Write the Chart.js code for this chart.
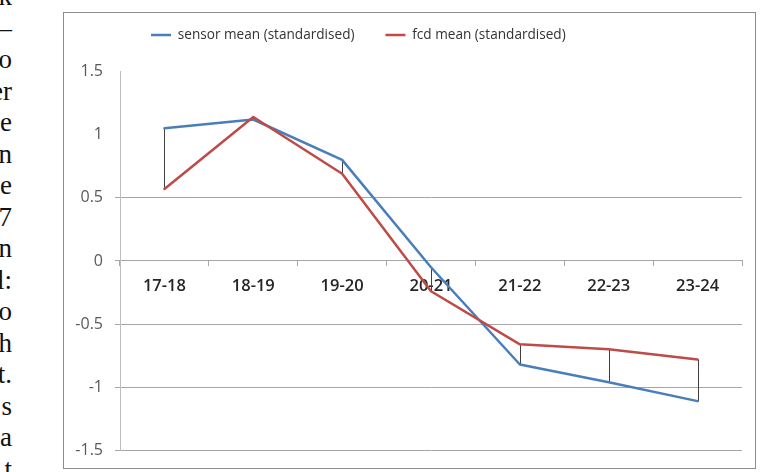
<!DOCTYPE html>
<html><head><meta charset="utf-8">
<script src="https://cdn.jsdelivr.net/npm/chart.js@4.4.0/dist/chart.umd.min.js"></script>
<style>
html,body{margin:0;padding:0;background:#fff;width:764px;height:472px;overflow:hidden;position:relative}
#side{position:absolute;left:-188px;top:-18.6px;width:200px;text-align:right;font-family:"Liberation Serif",serif;font-size:27px;line-height:31.5px;color:#111;white-space:nowrap}
#frame{position:absolute;left:63px;top:12px;width:693px;height:457px;border:1px solid #8c8c8c;box-sizing:border-box}
#c{position:absolute;left:0;top:0}
</style></head><body>
<div id="side">k<br>—<br>o<br>er<br>e<br>n<br>e<br>7<br>n<br>l:<br>o<br>h<br>t.<br>s<br>a<br>t</div>
<div id="frame"></div>
<canvas id="c" width="764" height="472"></canvas>
<script>
const categories = ['17-18', '18-19', '19-20', '20-21', '21-22', '22-23', '23-24'];
const sensorMean = [1.05, 1.12, 0.80, -0.05, -0.82, -0.96, -1.11];
const fcdMean = [0.57, 1.14, 0.69, -0.24, -0.66, -0.70, -0.78];
const yTicks = [1.5, 1, 0.5, 0, -0.5, -1, -1.5];
const seriesLabels = ['sensor mean (standardised)', 'fcd mean (standardised)'];

Chart.defaults.font.family = "'Open Sans', sans-serif";

const legendGap = {
  id: 'legendGap',
  beforeLayout(chart) {
    const lg = chart.legend;
    if (lg && !lg.__gap) {
      const fit = lg.fit;
      lg.fit = function () { fit.call(this); this.height += 19.7; };
      lg.__gap = true;
    }
  }
};

const dropLines = {
  id: 'dropLines',
  beforeDatasetsDraw(chart) {
    const {ctx, scales: {x, y}} = chart;
    ctx.save();
    ctx.strokeStyle = '#404040';
    ctx.lineWidth = 1;
    categories.forEach((c, i) => {
      const px = Math.round(x.getPixelForValue(i)) + 0.5;
      ctx.beginPath();
      ctx.moveTo(px, y.getPixelForValue(sensorMean[i]));
      ctx.lineTo(px, y.getPixelForValue(fcdMean[i]));
      ctx.stroke();
    });
    ctx.restore();
  }
};

const gridCol = (ctx) => (ctx.tick && ctx.tick.value > 0.5) ? 'rgba(0,0,0,0)' : '#a6a6a6';

new Chart(document.getElementById('c'), {
  type: 'line',
  data: {
    labels: categories,
    datasets: [
      {label: seriesLabels[0], data: sensorMean, borderColor: '#4a7ebb', backgroundColor: '#4a7ebb', borderWidth: 2.5, order: 1},
      {label: seriesLabels[1], data: fcdMean, borderColor: '#be4b48', backgroundColor: '#be4b48', borderWidth: 2.5, order: 0}
    ]
  },
  options: {
    responsive: false,
    animation: false,
    devicePixelRatio: 1,
    layout: {padding: {left: 64, right: 22, top: -2.8, bottom: 20.5}},
    elements: {
      point: {radius: 0, hoverRadius: 0},
      line: {tension: 0, fill: false, borderJoinStyle: 'round', borderCapStyle: 'round'}
    },
    plugins: {
      tooltip: {enabled: false},
      legend: {
        position: 'top',
        align: 'start',
        fullSize: false,
        labels: {
          usePointStyle: true,
          pointStyle: 'line',
          pointStyleWidth: 20,
          padding: 31,
          color: '#333333',
          font: {size: 13.6},
          sort: (a, b) => a.datasetIndex - b.datasetIndex
        }
      }
    },
    scales: {
      x: {
        position: {y: 0},
        offset: true,
        grid: {display: true, drawOnChartArea: false, offset: true, tickLength: 5, color: '#a6a6a6'},
        border: {color: '#a6a6a6'},
        ticks: {padding: 10, color: '#262626', font: {size: 16.5, weight: '600'}, maxRotation: 0}
      },
      y: {
        min: Math.min(...yTicks),
        max: Math.max(...yTicks),
        afterBuildTicks: (s) => { s.ticks = yTicks.map(v => ({value: v})); },
        afterFit: (s) => { s.width = 56; },
        grid: {color: gridCol, tickLength: 5},
        border: {color: '#bdbdbd'},
        ticks: {padding: 12, color: '#595959', font: {size: 16}, callback: (v) => String(v)}
      }
    }
  },
  plugins: [legendGap, dropLines]
});
</script>
</body></html>
